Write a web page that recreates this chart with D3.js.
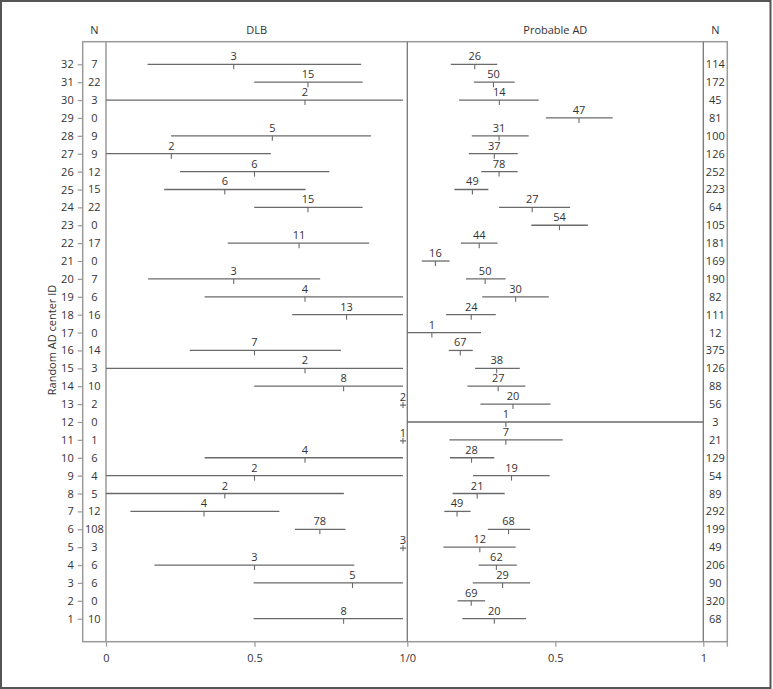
<!DOCTYPE html>
<html>
<head>
<meta charset="utf-8">
<script src="https://cdn.jsdelivr.net/npm/d3@7"></script>
<style>
  html, body { margin: 0; padding: 0; background: #fff; }
  svg text { font-family: "Open Sans", "Noto Sans", sans-serif; fill: #333; }
</style>
</head>
<body>
<svg id="chart" width="773" height="689"></svg>
<script>
// Rows listed from top (32) to bottom (1)
const centerIds = [32,31,30,29,28,27,26,25,24,23,22,21,20,19,18,17,16,15,14,13,12,11,10,9,8,7,6,5,4,3,2,1];

const dlbN = [7,22,3,0,9,9,12,15,22,0,17,0,7,6,16,0,14,3,10,2,0,1,6,4,5,12,108,3,6,6,0,10];
const dlbCount = [3,15,2,null,5,2,6,6,15,null,11,null,3,4,13,null,7,2,8,2,null,1,4,2,2,4,78,3,3,5,null,8];
const dlbEst = [0.43,0.68,0.67,null,0.56,0.22,0.50,0.40,0.68,null,0.65,null,0.43,0.67,0.81,null,0.50,0.67,0.80,1.00,null,1.00,0.67,0.50,0.40,0.33,0.72,1.00,0.50,0.83,null,0.80];
const dlbLow = [0.140,0.499,0.000,null,0.219,0.000,0.249,0.196,0.499,null,0.410,null,0.142,0.332,0.627,null,0.282,0.000,0.499,null,null,null,0.332,0.000,0.000,0.082,0.636,null,0.163,0.497,null,0.497];
const dlbHigh = [0.859,0.864,1.000,null,0.892,0.555,0.752,0.672,0.864,null,0.886,null,0.721,1.000,1.000,null,0.791,1.000,1.000,null,null,null,1.000,1.000,0.801,0.584,0.806,null,0.836,1.000,null,1.000];

const adN = [114,172,45,81,100,126,252,223,64,105,181,169,190,82,111,12,375,126,88,56,3,21,129,54,89,292,199,49,206,90,320,68];
const adCount = [26,50,14,47,31,37,78,49,27,54,44,16,50,30,24,1,67,38,27,20,1,7,28,19,21,49,68,12,62,29,69,20];
const adEst = [0.228,0.291,0.311,0.580,0.310,0.294,0.310,0.220,0.422,0.514,0.243,0.095,0.263,0.366,0.216,0.083,0.179,0.302,0.307,0.357,0.333,0.333,0.217,0.352,0.236,0.168,0.342,0.245,0.301,0.322,0.216,0.294];
const adLow = [0.147,0.225,0.175,0.468,0.218,0.208,0.250,0.159,0.310,0.419,0.181,0.049,0.198,0.253,0.131,0.000,0.140,0.229,0.203,0.247,0.000,0.142,0.144,0.222,0.153,0.125,0.272,0.122,0.241,0.221,0.170,0.186];
const adHigh = [0.304,0.363,0.444,0.694,0.410,0.373,0.373,0.274,0.550,0.610,0.305,0.143,0.332,0.478,0.299,0.249,0.221,0.380,0.399,0.484,1.000,0.525,0.294,0.481,0.329,0.214,0.415,0.366,0.370,0.415,0.263,0.401];

const dlbTicks = [0, 0.5];
const dlbTickLabels = ["0", "0.5"];
const adTicks = [0, 0.5, 1];
const adTickLabels = ["1/0", "0.5", "1"];

const svg = d3.select("#chart");
const W = 773, H = 689;

const frame = {left: 82.7, top: 41.7, right: 727.3, bottom: 641.7};
const xDLB = d3.scaleLinear().domain([0, 1]).range([106, 403]);
const xAD = d3.scaleLinear().domain([0, 1]).range([407.3, 703.3]);
const y = d3.scaleLinear().domain([1, 32]).range([618.7, 64.3]);

const lineColor = "#6a6a6a";
const frameColor = "#9a9a9a";

// outer border
svg.append("rect").attr("x", 1).attr("y", 1).attr("width", 769.5).attr("height", 687)
  .attr("fill", "none").attr("stroke", "#555").attr("stroke-width", 2);

// inner frame
svg.append("rect").attr("x", frame.left).attr("y", frame.top)
  .attr("width", frame.right - frame.left).attr("height", frame.bottom - frame.top)
  .attr("fill", "none").attr("stroke", frameColor).attr("stroke-width", 1.5);

// panel separators
[xDLB(0), xAD(0), xAD(1)].forEach((xx, i) => {
  svg.append("line").attr("x1", xx).attr("x2", xx).attr("y1", frame.top).attr("y2", frame.bottom)
    .attr("stroke", i === 0 ? frameColor : "#777").attr("stroke-width", i === 0 ? 1.5 : 1.3);
});

// headers
const hdr = svg.append("g").attr("font-size", 11).attr("text-anchor", "middle");
hdr.append("text").attr("x", (frame.left + xDLB(0)) / 2).attr("y", 34).text("N");
hdr.append("text").attr("x", (xDLB(0) + xAD(0)) / 2).attr("y", 34).text("DLB");
hdr.append("text").attr("x", (xAD(0) + xAD(1)) / 2).attr("y", 34).text("Probable AD");
hdr.append("text").attr("x", (xAD(1) + frame.right) / 2).attr("y", 34).text("N");

// left y axis
const yAxis = d3.axisLeft(y).tickValues(centerIds).tickFormat(d3.format("d")).tickSize(5).tickPadding(4);
const ya = svg.append("g").attr("transform", `translate(${frame.left},0)`).call(yAxis);
ya.select(".domain").remove();
ya.selectAll(".tick line").attr("stroke", frameColor).attr("stroke-width", 1.2);
ya.selectAll(".tick text").attr("font-size", 11).attr("fill", "#333")
  .attr("font-family", "'Open Sans', 'Noto Sans', sans-serif");

// y axis title
svg.append("text").attr("transform", `translate(56,340) rotate(-90)`)
  .attr("text-anchor", "middle").attr("font-size", 11).text("Random AD center ID");

// bottom axes
function bottomAxis(scale, ticks, labels) {
  const ax = d3.axisBottom(scale).tickValues(ticks)
    .tickFormat((d, i) => labels[i]).tickSize(5).tickPadding(8);
  const g = svg.append("g").attr("transform", `translate(0,${frame.bottom})`).call(ax);
  g.select(".domain").remove();
  g.selectAll(".tick line").attr("stroke", frameColor).attr("stroke-width", 1.2);
  g.selectAll(".tick text").attr("font-size", 11).attr("fill", "#333")
    .attr("font-family", "'Open Sans', 'Noto Sans', sans-serif");
}
bottomAxis(xDLB, dlbTicks, dlbTickLabels);
bottomAxis(xAD, adTicks, adTickLabels);
// end tick at right frame
svg.append("line").attr("x1", frame.right).attr("x2", frame.right)
  .attr("y1", frame.bottom).attr("y2", frame.bottom + 5).attr("stroke", frameColor).attr("stroke-width", 1.2);

// N columns
const nLeft = svg.append("g").attr("font-size", 11).attr("text-anchor", "middle");
centerIds.forEach((id, i) => {
  nLeft.append("text").attr("x", (frame.left + xDLB(0)) / 2).attr("y", y(id) + 4).text(dlbN[i]);
  nLeft.append("text").attr("x", (xAD(1) + frame.right) / 2).attr("y", y(id) + 4).text(adN[i]);
});

// intervals
function drawPanel(x, est, low, high, count) {
  const g = svg.append("g");
  centerIds.forEach((id, i) => {
    if (est[i] === null) return;
    const yy = y(id);
    if (low[i] !== null && high[i] !== null) {
      g.append("line").attr("x1", x(low[i])).attr("x2", x(high[i]))
        .attr("y1", yy).attr("y2", yy).attr("stroke", lineColor).attr("stroke-width", 1.3);
      g.append("line").attr("x1", x(est[i])).attr("x2", x(est[i]))
        .attr("y1", yy).attr("y2", yy + 5).attr("stroke", lineColor).attr("stroke-width", 1.1);
      g.append("text").attr("x", x(est[i])).attr("y", yy - 4)
        .attr("text-anchor", "middle").attr("font-size", 11).text(count[i]);
    } else {
      const cx = x(est[i]), cy = y(id) + 1;
      g.append("path").attr("d", `M${cx - 3},${cy}H${cx + 3}M${cx},${cy - 3}V${cy + 3}`)
        .attr("stroke", lineColor).attr("stroke-width", 1.1);
      g.append("text").attr("x", cx).attr("y", cy - 4)
        .attr("text-anchor", "middle").attr("font-size", 11).text(count[i]);
    }
  });
}
drawPanel(xDLB, dlbEst, dlbLow, dlbHigh, dlbCount);
drawPanel(xAD, adEst, adLow, adHigh, adCount);
</script>
</body>
</html>
